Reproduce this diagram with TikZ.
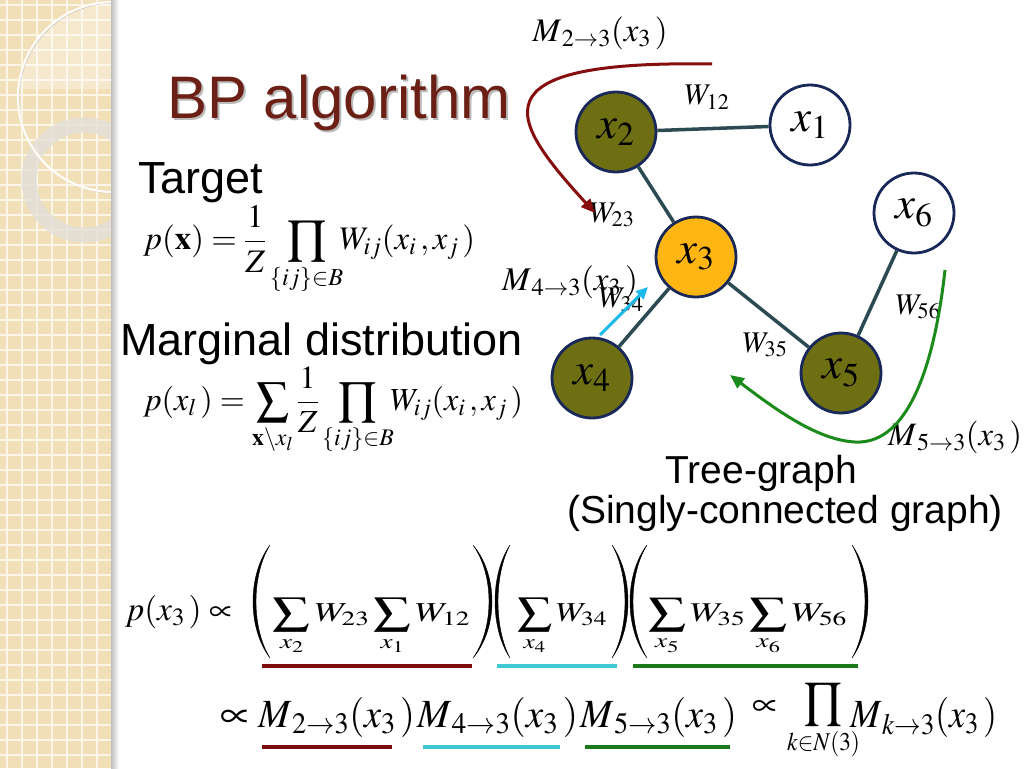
\documentclass[tikz,border=0pt]{standalone}
\usepackage{mathptmx}
\usepackage[no-math]{fontspec}
\setmainfont{Liberation Sans}
\usepackage{graphicx}
\usetikzlibrary{arrows.meta}
\definecolor{stripcol}{RGB}{241,223,184}
\definecolor{gridcol}{RGB}{252,246,232}
\definecolor{ringcol}{RGB}{228,224,216}
\definecolor{titlecol}{RGB}{107,31,21}
\definecolor{olivecol}{RGB}{110,110,18}
\definecolor{orangecol}{RGB}{255,182,18}
\definecolor{navycol}{RGB}{24,40,88}
\definecolor{edgecol}{RGB}{44,74,82}
\definecolor{maroonc}{RGB}{135,14,14}
\definecolor{cyanc}{RGB}{30,185,235}
\definecolor{greenc}{RGB}{26,138,26}
\definecolor{ulmaroon}{RGB}{125,12,12}
\definecolor{ulcyan}{RGB}{64,200,210}
\definecolor{ulgreen}{RGB}{26,122,26}
\tikzset{
  gnode/.style={circle, draw=navycol, line width=2.8pt, minimum size=80pt, inner sep=0pt,
    font=\fontsize{45}{50}\selectfont},
  olivenode/.style={gnode, fill=olivecol},
  whitenode/.style={gnode, fill=white},
  orangenode/.style={gnode, fill=orangecol},
  gedge/.style={draw=edgecol, line width=3.5pt},
  wlabel/.style={inner sep=0pt, font=\fontsize{30}{34}\selectfont},
  mlabel/.style={inner sep=0pt, font=\fontsize{30}{34}\selectfont},
  formula/.style={inner sep=0pt, anchor=west, font=\fontsize{34}{40}\selectfont},
  piece/.style={inner sep=0pt, anchor=center, font=\fontsize{34}{40}\selectfont},
  bigtext/.style={inner sep=0pt, anchor=base west, font=\fontsize{45}{54}\selectfont},
  treetext/.style={inner sep=0pt, anchor=base, font=\fontsize{39}{44}\selectfont},
  msgarrow/.style={line width=3pt, -{Triangle[length=14pt,width=12pt]}},
  uline/.style={line width=4pt},
  bigparen/.style={fill=black, draw=black, line width=0.4pt},
}
\begin{document}
\begin{tikzpicture}[x=1pt,y=-1pt]
\useasboundingbox (0,0) rectangle (1024,768);
\fill[white] (0,0) rectangle (1024,768);
% decorative strip
\fill[stripcol] (0,0) rectangle (113,768);
\foreach \i in {7,22,...,112} \draw[gridcol, line width=1.6pt] (\i,0) -- (\i,768);
\foreach \j in {5,20,...,768} \draw[gridcol, line width=1.6pt] (0,\j) -- (113,\j);
\begin{scope}
  \clip (0,0) rectangle (113,768);
  \begin{scope}
    \clip (0,0) rectangle (113,88);
    \fill[white, opacity=0.3] (113,97) circle[radius=95pt];
  \end{scope}
  \draw[ringcol, line width=15pt, opacity=0.85] (84,180) circle[radius=55pt];
  \draw[black!35, line width=1pt, opacity=0.5] (114,98) circle[radius=95pt];
  \draw[white!90!stripcol, line width=2.2pt] (113,97) circle[radius=95pt];
\end{scope}
\shade[left color=black!25, right color=white] (111,0) rectangle (119,768);
% title
\node[inner sep=0pt, anchor=base west, font=\fontsize{60}{66}\selectfont, text=black!45, opacity=0.6] (titleshadow) at (169,120) {BP algorithm};
\node[inner sep=0pt, anchor=base west, font=\fontsize{60}{66}\selectfont, text=titlecol] (title) at (167,118) {BP algorithm};
% left texts
\node[bigtext] (target) at (138,193) {Target};
\node[formula] (eq1) at (143,250) {\resizebox{332pt}{!}{$\displaystyle p(\mathbf{x})=\frac{1}{Z}\prod_{\{ij\}\in B}\!\!W_{ij}(x_i\,,x_j\,)$}};
\node[bigtext] (marg) at (120,355) {Marginal distribution};
\node[formula] (eq2) at (143,411) {\resizebox{380pt}{!}{$\displaystyle p(x_l\,)=\sum_{\mathbf{x}\backslash x_l}\frac{1}{Z}\prod_{\{ij\}\in B}\!\!W_{ij}(x_i\,,x_j\,)$}};
% graph
\node[olivenode] (x2) at (616,132) {$x_2$};
\node[whitenode] (x1) at (810,125) {$x_1$};
\node[whitenode] (x6) at (914,213) {$x_6$};
\node[orangenode] (x3) at (696,257) {$x_3$};
\node[olivenode] (x4) at (592,378) {$x_4$};
\node[olivenode] (x5) at (841,373) {$x_5$};
\draw[gedge] (x2) -- (x1);
\draw[gedge] (x2) -- (x3);
\draw[gedge] (x3) -- (x4);
\draw[gedge] (x3) -- (x5);
\draw[gedge] (x5) -- (x6);
% edge labels
\node[wlabel] (w12) at (707,97) {$W_{12}$};
\node[wlabel] (w23) at (612,215) {$W_{23}$};
\node[wlabel] (w34) at (621,300) {$W_{34}$};
\node[wlabel] (w35) at (765,345) {$W_{35}$};
\node[wlabel] (w56) at (918,307) {$W_{56}$};
% message labels
\node[mlabel] (m23) at (600,33) {\resizebox{135pt}{!}{$M_{\,2\to3}(x_3\,)$}};
\node[mlabel] (m43) at (570,282) {\resizebox{136pt}{!}{$M_{\,4\to3}(x_3\,)$}};
\node[mlabel] (m53) at (955,437) {\resizebox{134pt}{!}{$M_{\,5\to3}(x_3\,)$}};
% message arrows
\coordinate (a23s) at (712,64);
\coordinate (a23e) at (595,213);
\draw[msgarrow, maroonc] (a23s) .. controls (470,60) and (510,120) .. (a23e);
\coordinate (a43s) at (600,335);
\coordinate (a43e) at (648,287);
\draw[msgarrow, cyanc, -{Triangle[length=12pt,width=11pt]}] (a43s) -- (a43e);
\coordinate (a53s) at (945,270);
\coordinate (a53m) at (855,442);
\coordinate (a53e) at (730,375);
\draw[msgarrow, greenc] (a53s) .. controls (935,360) and (910,445) .. (a53m) .. controls (815,440) and (770,405) .. (a53e);
% tree text
\node[treetext] (tree1) at (761,483) {Tree-graph};
\node[treetext] (tree2) at (785,523) {(Singly-connected graph)};
% bottom formula, line 1
\node[piece] (lhs) at (179,612) {\resizebox{108pt}{!}{$p(x_3\,)\propto$}};
\node[piece] (c1) at (371.5,626.5) {\resizebox*{197pt}{57pt}{$\displaystyle\sum_{x_2}W_{23}\sum_{x_1}W_{12}$}};
\node[piece] (c2) at (562,626.5) {\resizebox*{90pt}{57pt}{$\displaystyle\sum_{x_4}W_{34}$}};
\node[piece] (c3) at (747.5,626.5) {\resizebox*{199pt}{57pt}{$\displaystyle\sum_{x_5}W_{35}\sum_{x_6}W_{56}$}};
% big parentheses
\fill[bigparen] (270,545) .. controls (247.33,575) and (247.33,628) .. (270,658) .. controls (251.33,628) and (251.33,575) .. (270,545) -- cycle;
\fill[bigparen] (473,545) .. controls (498.33,575) and (498.33,628) .. (473,658) .. controls (494.33,628) and (494.33,575) .. (473,545) -- cycle;
\fill[bigparen] (510,545) .. controls (490,575) and (490,628) .. (510,658) .. controls (494,628) and (494,575) .. (510,545) -- cycle;
\fill[bigparen] (612,545) .. controls (633.33,575) and (633.33,628) .. (612,658) .. controls (629.33,628) and (629.33,575) .. (612,545) -- cycle;
\fill[bigparen] (647,545) .. controls (624.33,575) and (624.33,628) .. (647,658) .. controls (628.33,628) and (628.33,575) .. (647,545) -- cycle;
\fill[bigparen] (852,545) .. controls (873.33,575) and (873.33,628) .. (852,658) .. controls (869.33,628) and (869.33,575) .. (852,545) -- cycle;
% bottom formula, line 2
\node[piece] (p1) at (235,718.5) {\resizebox{30pt}{!}{$\propto$}};
\node[piece] (lm2) at (336.5,717.5) {\resizebox*{157pt}{40pt}{$M_{\,2\to3}(x_3\,)$}};
\node[piece] (lm4) at (497.5,717.5) {\resizebox*{161pt}{40pt}{$M_{\,4\to3}(x_3\,)$}};
\node[piece] (lm5) at (658.5,717.5) {\resizebox*{157pt}{40pt}{$M_{\,5\to3}(x_3\,)$}};
\node[piece] (p2) at (765,708.5) {\resizebox{26pt}{!}{$\propto$}};
\node[piece] (lprod) at (823.5,721.5) {\resizebox*{73pt}{77pt}{$\displaystyle\prod_{k\in N(3)}$}};
\node[piece] (lmk) at (923.5,717.5) {\resizebox*{147pt}{40pt}{$M_{\,k\to3}(x_3\,)$}};
% underlines
\draw[uline, ulmaroon] (262,666) -- (472,666);
\draw[uline, ulcyan] (497,666) -- (617,666);
\draw[uline, ulgreen] (633,666) -- (858,666);
\draw[uline, ulmaroon] (262,747) -- (392,747);
\draw[uline, ulcyan] (423,747) -- (560,747);
\draw[uline, ulgreen] (585,747) -- (730,747);
\end{tikzpicture}
\end{document}
